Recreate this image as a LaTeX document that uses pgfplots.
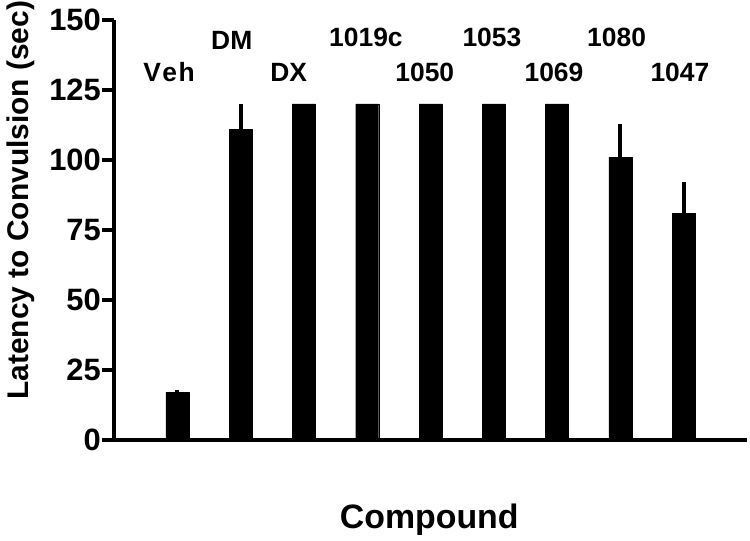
\documentclass[border=0pt]{standalone}
\usepackage{fontspec}
\setmainfont{Liberation Sans}
\usepackage{pgfplots}
\pgfplotsset{compat=1.18}
\begin{document}
\begin{tikzpicture}[x=1bp,y=1bp]
\useasboundingbox (0,0) rectangle (750,541);
\begin{axis}[
  at={(114bp,101bp)}, anchor=south west,
  scale only axis, width=633bp, height=420bp,
  xmin=0, xmax=10, ymin=0, ymax=150,
  axis lines=left,
  axis line style={line width=4bp, -, black},
  xtick=\empty,
  ytick={0,25,...,150},
  tick align=outside,
  major tick length=12bp,
  ytick style={line width=4bp, black},
  /pgf/number format/assume math mode=true,
  yticklabel style={font=\bfseries\fontsize{31}{31}\selectfont, inner sep=1bp},
  xlabel={Compound},
  xlabel style={at={(axis description cs:0.498,-0.19)}, anchor=center, font=\bfseries\fontsize{34}{34}\selectfont},
  ylabel={Latency to Convulsion (sec)},
  ylabel style={at={(axis description cs:-0.148,0.571)}, anchor=center, font=\bfseries\fontsize{30}{30}\selectfont},
  clip=false,
]
\addplot[ybar, bar width=23bp, fill=black, draw=black, line join=round,
  error bars/.cd, y dir=plus, y explicit, error mark=none,
  error bar style={line width=4bp, black}]
  coordinates {
  (1,17) +- (0,1)
  (2,111) +- (0,9)
  (3,120) +- (0,0)
  (4,120) +- (0,0)
  (5,120) +- (0,0)
  (6,120) +- (0,0)
  (7,120) +- (0,0)
  (8,101) +- (0,12)
  (9,81) +- (0,11)
  };
\begin{scope}[every node/.style={font=\bfseries\fontsize{26.5}{26.5}\selectfont, anchor=base, inner sep=0pt}]
\node at (axis cs:0.87,128.2) {V\kern1.5bp e\kern1.5bp h};
\node at (axis cs:1.86,139.3) {DM};
\node at (axis cs:2.76,128.2) {DX};
\node at (axis cs:3.98,140.4) {1019c};
\node at (axis cs:4.91,128.2) {1050};
\node at (axis cs:5.97,140.4) {1053};
\node at (axis cs:6.95,128.2) {1069};
\node at (axis cs:7.94,140.4) {1080};
\node at (axis cs:8.94,128.2) {1047};
\end{scope}
\end{axis}
\end{tikzpicture}
\end{document}
